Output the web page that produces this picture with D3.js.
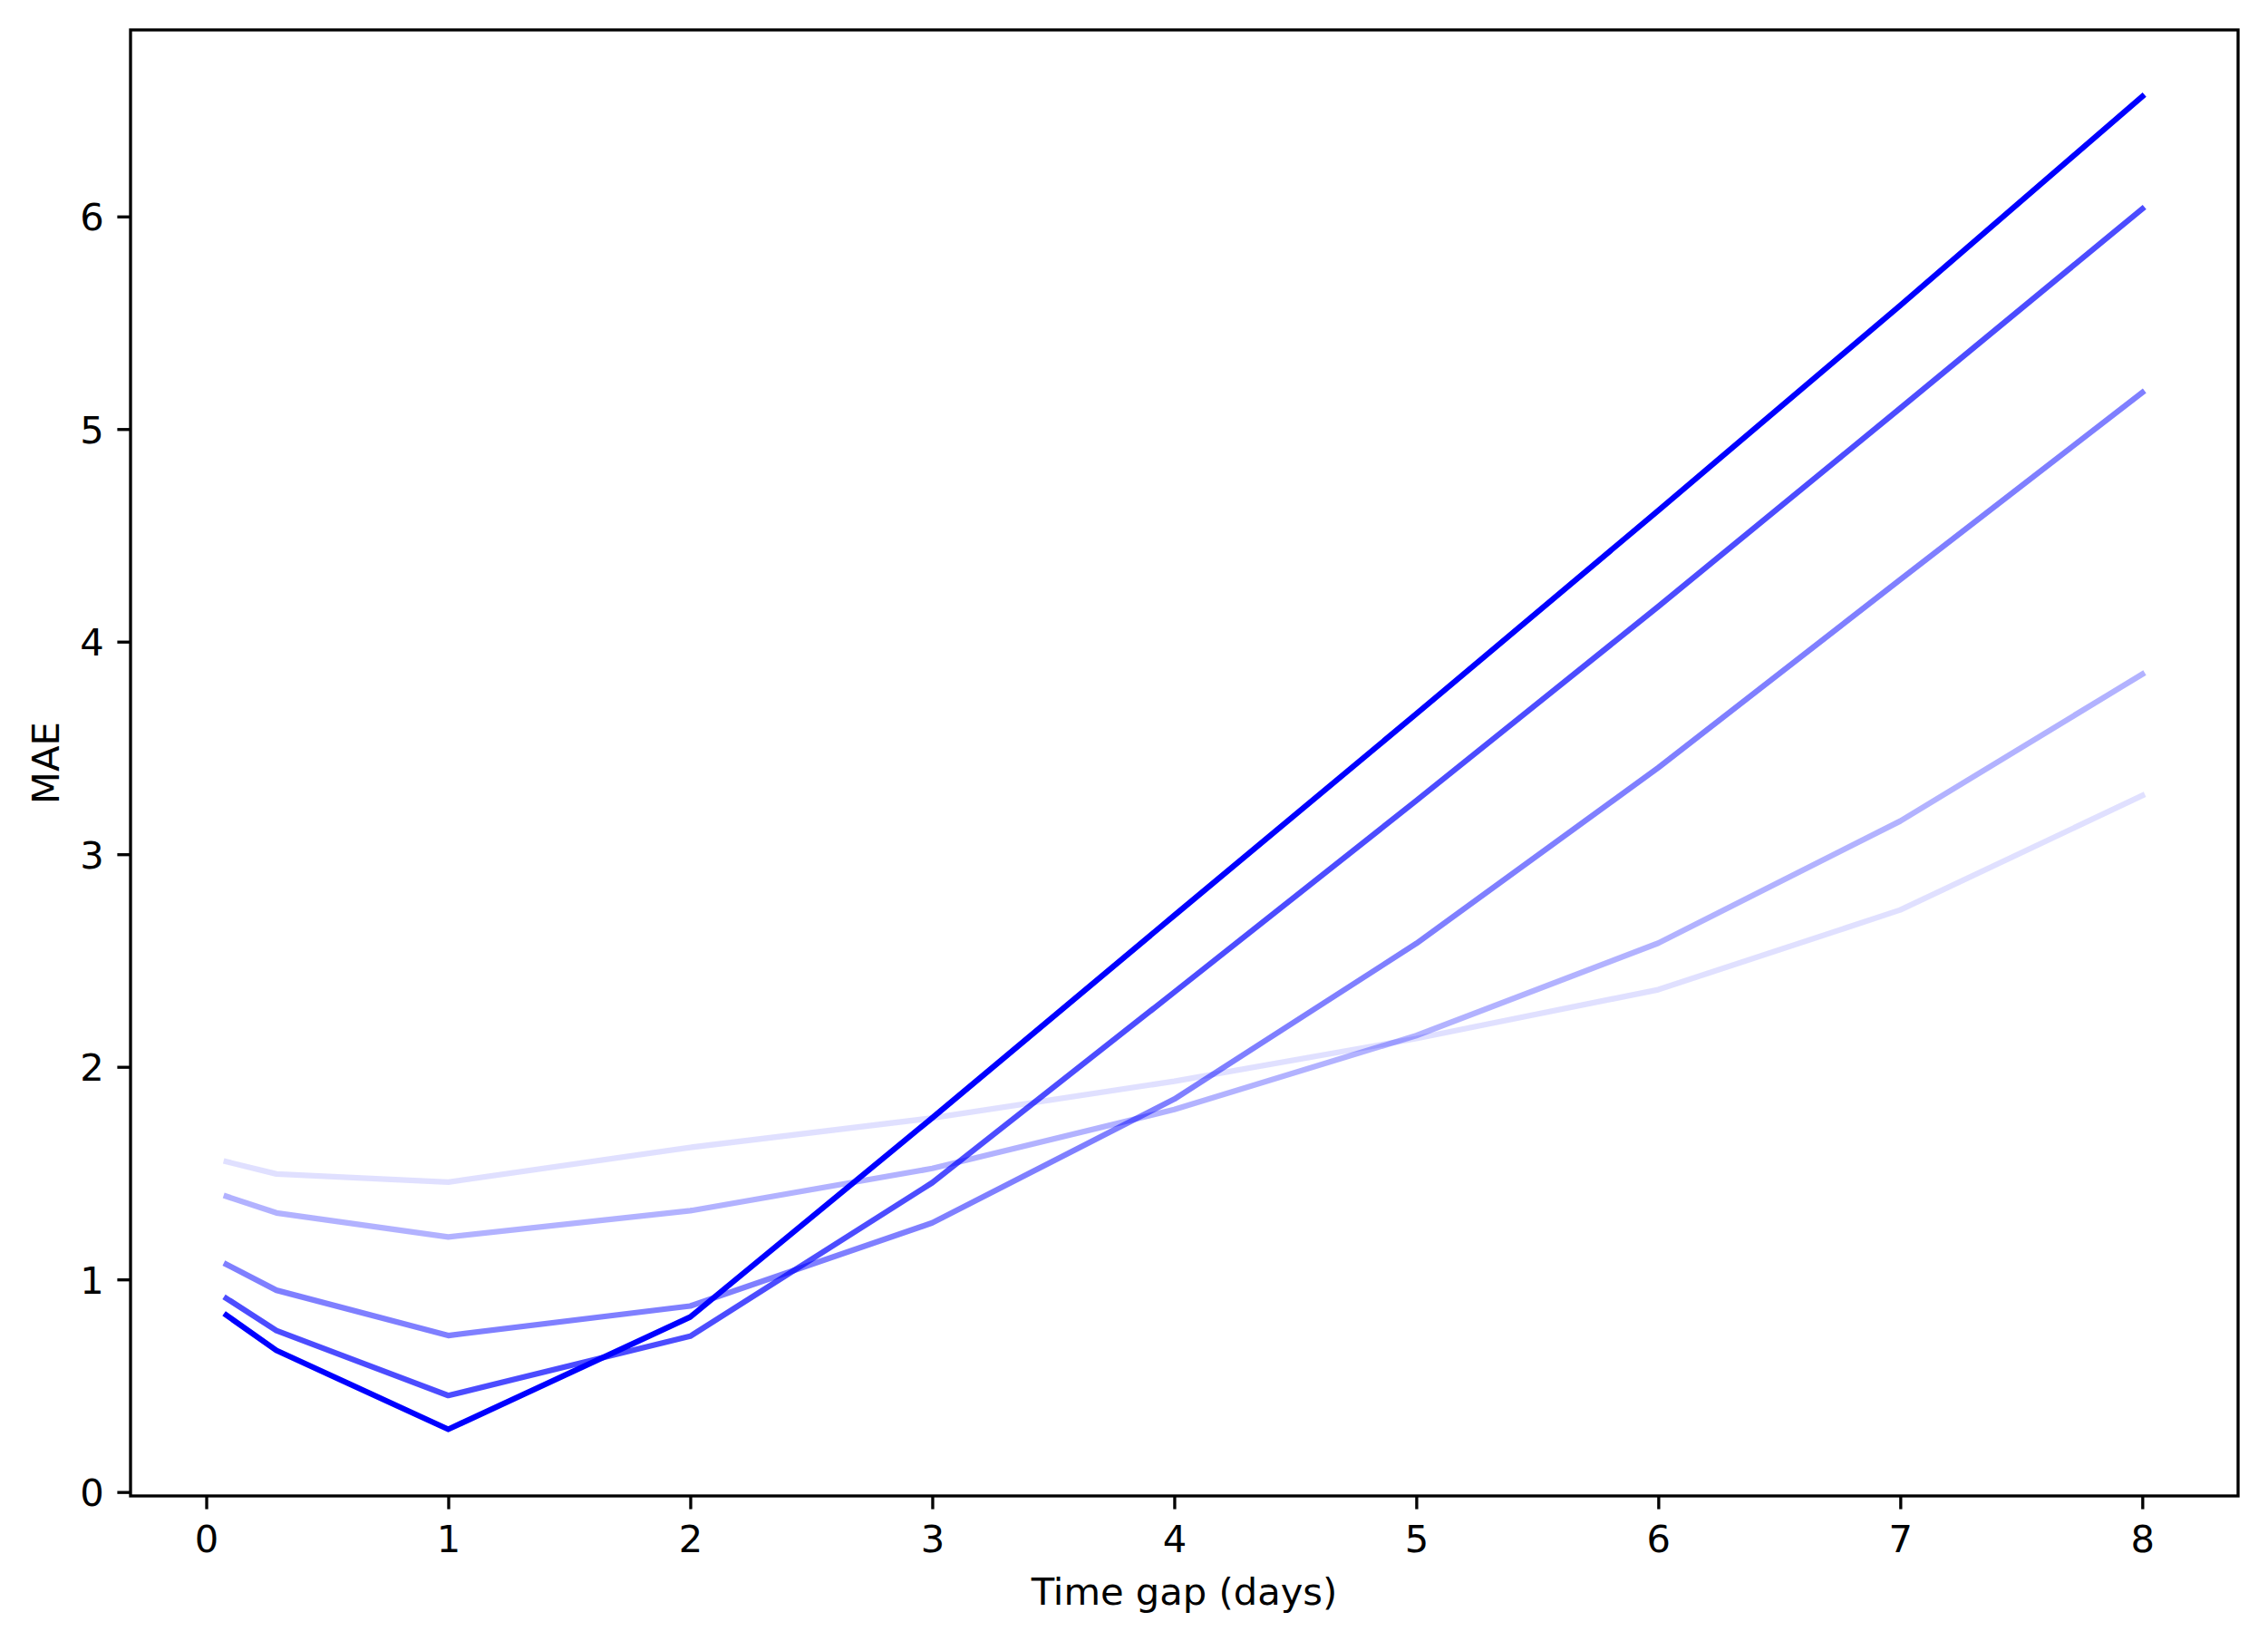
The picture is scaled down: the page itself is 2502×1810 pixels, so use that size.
<!DOCTYPE html>
<html>
<head>
<meta charset="utf-8">
<script src="https://cdn.jsdelivr.net/npm/d3@7"></script>
<style>
  body { margin: 0; background: white; }
  text { font-family: "DejaVu Sans", sans-serif; }
</style>
</head>
<body>
<div id="chart"></div>
<script>
// time gap in days (x) for every series
var timeGaps = [0.083, 0.29, 1, 2, 3, 4, 5, 6, 7, 8];

// MAE per series, lightest to darkest
var maeA = [1.554, 1.496, 1.458, 1.621, 1.759, 1.932, 2.133, 2.363, 2.738, 3.276];
var maeB = [1.391, 1.313, 1.200, 1.323, 1.522, 1.799, 2.147, 2.582, 3.156, 3.847];
var maeC = [1.071, 0.949, 0.736, 0.875, 1.266, 1.848, 2.580, 3.407, 4.292, 5.172];
var maeD = [0.911, 0.759, 0.454, 0.733, 1.455, 2.351, 3.252, 4.165, 5.098, 6.036];
var maeE = [0.832, 0.666, 0.295, 0.823, 1.760, 2.712, 3.660, 4.617, 5.582, 6.564];

var seriesAlpha = [0.12, 0.3, 0.5, 0.7, 1.0];

var xTicks = [0, 1, 2, 3, 4, 5, 6, 7, 8];
var yTicks = [0, 1, 2, 3, 4, 5, 6];

var width = 2502;
var height = 1810;
// plot box in pixels (note: "top" is a reserved global in browsers)
var plotLeft = 144, plotRight = 2469, plotTop = 33, plotBottom = 1650;
var tickLen = 14.6;
var fontSize = 41.67;

var series = [maeA, maeB, maeC, maeD, maeE];

// matplotlib style 5% padding
var pad = function(ext) {
  var r = ext[1] - ext[0];
  return [ext[0] - 0.05 * r, ext[1] + 0.05 * r];
}

var allY = [].concat.apply([], series);

var x = d3.scaleLinear().domain(pad(d3.extent(timeGaps))).range([plotLeft, plotRight]);
var y = d3.scaleLinear().domain(pad(d3.extent(allY))).range([plotBottom, plotTop]);

var canvas = d3.select("#chart")
    .append("svg")
    .attr("width", width)
    .attr("height", height)

canvas.append("rect")
    .attr("width", width)
    .attr("height", height)
    .attr("fill", "white")

var line = d3.line()
    .x((d, i) => x(timeGaps[i]))
    .y(d => y(d))

canvas.selectAll(".series")
    .data(series)
    .enter()
    .append("path")
    .attr("class", "series")
    .attr("d", line)
    .attr("fill", "none")
    .attr("stroke", "blue")
    .attr("stroke-opacity", (d, i) => seriesAlpha[i])
    .attr("stroke-width", 6.25)
    .attr("stroke-linejoin", "round")
    .attr("stroke-linecap", "square")

// x axis
var xAxis = d3.axisBottom(x)
    .tickValues(xTicks)
    .tickFormat(d3.format("d"))
    .tickSize(tickLen)
    .tickPadding(14.6)

var gx = canvas.append("g")
    .attr("transform", "translate(0," + plotBottom + ")")
    .call(xAxis)

gx.select(".domain").remove()
gx.selectAll(".tick line").attr("stroke", "black").attr("stroke-width", 3.33)
gx.selectAll(".tick text")
    .attr("fill", "black")
    .attr("dy", null)
    .attr("y", 62)
    .style("font-size", fontSize + "px")
    .style("font-family", "DejaVu Sans")

// y axis
var yAxis = d3.axisLeft(y)
    .tickValues(yTicks)
    .tickFormat(d3.format("d"))
    .tickSize(tickLen)
    .tickPadding(14.6)

var gy = canvas.append("g")
    .attr("transform", "translate(" + plotLeft + ",0)")
    .call(yAxis)

gy.select(".domain").remove()
gy.selectAll(".tick line").attr("stroke", "black").attr("stroke-width", 3.33)
gy.selectAll(".tick text")
    .attr("fill", "black")
    .attr("dy", null)
    .attr("y", 15.2)
    .style("font-size", fontSize + "px")
    .style("font-family", "DejaVu Sans")

// frame
canvas.append("rect")
    .attr("x", plotLeft)
    .attr("y", plotTop)
    .attr("width", plotRight - plotLeft)
    .attr("height", plotBottom - plotTop)
    .attr("fill", "none")
    .attr("stroke", "black")
    .attr("stroke-width", 3.33)
    .attr("stroke-linejoin", "miter")

canvas.append("text")
    .attr("x", (plotLeft + plotRight) / 2)
    .attr("y", 1770)
    .text("Time gap (days)")
    .style("text-anchor", "middle")
    .style("font-size", fontSize + "px")

canvas.append("text")
    .attr("transform", "translate(65," + ((plotTop + plotBottom) / 2) + ") rotate(-90)")
    .text("MAE")
    .style("text-anchor", "middle")
    .style("font-size", fontSize + "px")
</script>
</body>
</html>
